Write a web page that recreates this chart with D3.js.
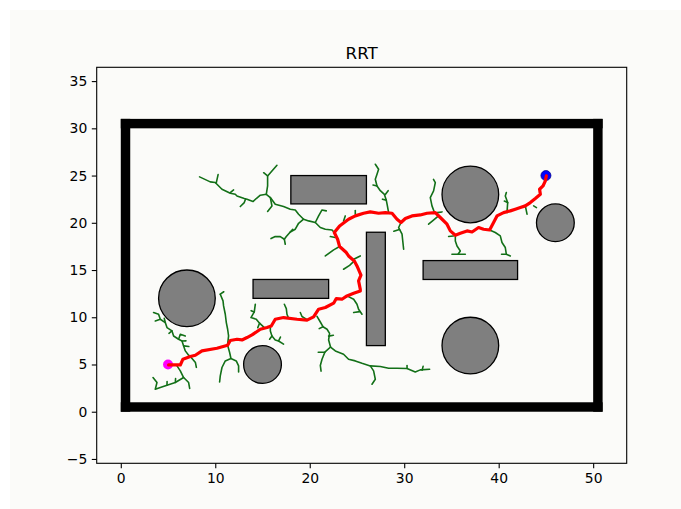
<!DOCTYPE html>
<html>
<head>
<meta charset="utf-8">
<script src="https://cdn.jsdelivr.net/npm/d3@7"></script>
<style>
  body { margin: 0; background: #ffffff; }
  text { font-family: "DejaVu Sans", sans-serif; }
</style>
</head>
<body>
<div id="graph"></div>
<script>
/// Data

var xTicks = [0, 10, 20, 30, 40, 50];
var yTicks = [-5, 0, 5, 10, 15, 20, 25, 30, 35];

// boundary walls [x, y, w, h]
var walls = [[0, 0, 51, 1], [0, 0, 1, 31], [0, 30, 51, 1], [50, 0, 1, 31]];
// rectangular obstacles [x, y, w, h]
var rectObstacles = [[18, 22, 8, 3], [26, 7, 2, 12], [14, 12, 8, 2], [32, 14, 10, 2]];
// circular obstacles [cx, cy, r]
var circleObstacles = [[7, 12, 3], [15, 5, 2], [37, 23, 3], [37, 7, 3], [46, 20, 2]];

var start = [5, 5];
var goal = [45, 25];

// final path found by RRT
var pathPts = [
  [5.06, 4.95], [6.3, 4.95], [6.58, 5.56], [7.36, 5.84], [7.89, 5.98], [8.59, 6.44], [10.18, 6.72],
  [11.31, 7.04], [11.59, 7.54], [12.3, 7.67], [12.83, 7.6], [13.36, 7.85], [13.89, 8.13], [14.77, 8.73],
  [15.48, 8.91], [15.93, 9.08], [16.35, 9.79], [17.23, 9.97], [18.65, 9.79], [19.71, 9.69], [20.41, 10.04],
  [20.94, 10.85], [21.65, 11.03], [22.53, 11.49], [22.81, 11.98], [23.41, 11.91], [23.94, 12.26],
  [24.65, 12.54], [25.35, 12.79], [25.35, 12.97], [25.17, 13.85], [25.42, 14.45], [25.0, 15.43],
  [24.72, 15.96], [24.11, 16.49], [23.87, 16.85], [23.16, 17.49], [22.95, 18.26], [22.6, 18.97],
  [23.16, 19.67], [24.11, 20.38], [24.82, 20.73], [25.7, 21.01], [26.41, 21.15], [27.29, 21.01],
  [28.0, 21.08], [28.71, 21.01], [29.24, 20.38], [29.66, 20.03], [30.12, 20.45], [30.82, 20.73],
  [31.7, 20.83], [32.41, 21.01], [33.29, 21.08], [33.82, 20.56], [34.53, 19.85], [34.88, 19.14],
  [35.41, 18.68], [35.94, 18.89], [36.65, 19.14], [37.18, 19.03], [37.87, 19.5], [38.4, 19.32],
  [39.04, 19.24], [39.46, 20.03], [39.82, 20.73], [40.52, 21.08], [41.23, 21.26], [41.76, 21.44],
  [42.29, 21.61], [42.82, 21.79], [43.35, 22.14], [43.88, 22.57], [44.41, 23.02], [44.33, 23.55],
  [44.69, 23.9], [44.94, 24.43], [45.04, 24.96]
];

// explored tree branches (polylines)
var treeBranches = [
  // upper left
  [[8.34, 24.86], [9.47, 24.33], [10.0, 24.26], [10.18, 24.08], [10.71, 23.55], [11.59, 23.13], [12.12, 23.02],
   [12.3, 22.84], [13.07, 22.57], [13.36, 22.49], [13.99, 22.25], [14.34, 22.57], [14.77, 22.92], [15.4, 23.02],
   [15.83, 22.67], [16.35, 21.96], [17.23, 21.72], [17.94, 21.44], [18.47, 21.36], [18.82, 20.91], [19.35, 20.38],
   [19.88, 20.2], [20.59, 20.03], [21.12, 19.5], [21.65, 19.32], [22.36, 19.24], [22.6, 18.97]],
  [[10.1, 24.2], [10.3, 25.1]],
  [[11.59, 23.2], [11.94, 23.48]],
  [[13.2, 22.5], [13.07, 22.14], [12.65, 21.72]],
  [[15.4, 23.02], [15.54, 23.9], [15.54, 24.96], [16.53, 26.09]],
  [[15.54, 24.96], [15.12, 25.3]],
  [[15.83, 22.67], [16.0, 21.78], [15.54, 21.2]],
  [[20.59, 20.03], [20.94, 20.73], [21.3, 21.36], [21.75, 21.26]],
  [[19.35, 20.38], [18.82, 19.95], [18.47, 19.32], [17.94, 19.03], [17.52, 18.54], [17.31, 18.26], [16.88, 18.54],
   [16.35, 18.54], [15.9, 18.33]],
  [[17.31, 18.26], [17.41, 17.73]],
  [[17.94, 19.03], [18.2, 19.3]],
  // around the middle of the path
  [[23.16, 17.49], [22.53, 17.13], [21.65, 16.49]],
  [[24.72, 15.96], [24.22, 15.5], [23.58, 15.08]],
  [[24.65, 16.14], [25.35, 16.49]],
  [[22.7, 18.44], [22.18, 18.54]],
  [[23.58, 20.2], [23.76, 20.73]],
  [[24.82, 20.91], [24.82, 21.3]],
  [[28.35, 21.08], [28.2, 21.9], [28.1, 22.4], [27.9, 23.0], [27.47, 23.4], [27.12, 23.9], [26.94, 24.61],
   [27.12, 25.14], [27.29, 25.67], [26.94, 26.2]],
  [[27.12, 23.9], [26.7, 24.0]],
  [[28.0, 23.0], [28.3, 23.4]],
  [[28.1, 22.4], [27.7, 22.5]],
  [[29.66, 20.03], [29.41, 19.5], [29.77, 18.79], [29.94, 17.2]],
  [[29.5, 19.3], [28.9, 19.1]],
  // near the big circle
  [[33.2, 21.08], [32.94, 21.79], [32.76, 22.67], [33.11, 23.37], [33.29, 24.26], [33.1, 24.6]],
  [[33.6, 20.7], [33.0, 20.2], [32.58, 19.85]],
  [[33.47, 21.08], [34.0, 21.15]],
  [[35.41, 18.68], [35.41, 18.08], [35.59, 17.55], [35.94, 17.02], [35.7, 16.67]],
  [[35.05, 16.67], [36.47, 16.67]],
  [[35.2, 18.6], [34.7, 18.55]],
  [[39.04, 19.24], [39.64, 18.97], [40.17, 18.61], [40.35, 17.91], [40.7, 17.38], [40.81, 16.67], [41.23, 16.49]],
  [[40.81, 16.67], [40.3, 16.67]],
  [[40.88, 21.08], [40.95, 22.14], [40.7, 22.84], [40.81, 23.2]],
  [[40.95, 22.14], [40.6, 22.3]],
  [[42.82, 21.79], [43.0, 20.91]],
  [[43.7, 21.79], [44.0, 21.61]],
  // near the start
  [[3.47, 10.5], [4.0, 10.32], [4.18, 9.79], [4.71, 9.44], [4.89, 8.91], [5.42, 8.55], [5.59, 8.02], [6.12, 7.67],
   [6.48, 7.49], [6.65, 6.97], [6.83, 6.44], [7.18, 5.98], [7.36, 5.84]],
  [[4.18, 9.79], [3.65, 9.61]],
  [[4.71, 9.44], [4.6, 9.9]],
  [[5.42, 8.55], [5.1, 8.3]],
  [[6.12, 7.67], [6.3, 8.2], [6.83, 8.02]],
  [[6.65, 6.97], [7.2, 6.9]],
  [[6.48, 7.49], [6.9, 7.5]],
  [[7.36, 5.84], [7.9, 5.2], [8.0, 4.7]],
  [[5.95, 4.85], [6.3, 4.32], [6.65, 3.62], [7.18, 3.09], [7.29, 2.46]],
  [[6.65, 3.62], [5.77, 3.09], [4.89, 2.81], [4.18, 2.56], [3.65, 2.38], [3.83, 3.09], [3.41, 3.62]],
  [[5.77, 3.09], [5.8, 3.5]],
  [[4.89, 2.81], [4.9, 3.2]],
  // lower middle
  [[11.31, 7.04], [11.52, 6.27], [11.66, 5.63], [12.22, 5.38], [12.47, 4.85], [12.47, 4.21]],
  [[11.66, 5.63], [11.06, 5.38], [10.71, 4.68], [10.53, 3.79], [10.46, 3.15]],
  [[11.31, 7.15], [11.41, 8.02], [11.31, 8.73], [11.17, 9.44], [11.06, 10.32], [10.88, 11.2], [10.82, 11.73],
   [10.53, 12.44]],
  [[10.53, 12.44], [10.9, 12.7]],
  [[15.19, 8.91], [14.69, 9.37], [14.34, 9.79], [13.78, 9.97], [14.13, 10.56], [14.24, 11.38]],
  [[14.69, 9.37], [14.5, 8.9]],
  [[14.13, 10.56], [13.8, 10.7]],
  [[15.83, 8.9], [15.83, 8.55], [16.0, 8.02], [16.35, 7.6], [16.7, 7.49], [17.23, 7.15]],
  [[16.0, 8.02], [15.75, 7.67]],
  [[16.7, 7.49], [16.9, 7.9]],
  [[17.73, 9.97], [17.59, 10.32], [17.52, 10.92], [17.31, 11.38]],
  [[19.71, 9.75], [19.18, 10.08], [19.0, 10.5]],
  [[20.77, 10.1], [21.12, 9.5], [21.4, 9.0], [21.83, 8.73], [22.1, 8.3], [22.0, 7.6], [22.2, 6.85], [22.71, 6.44],
   [23.58, 6.09], [24.11, 5.56], [24.82, 5.38], [25.53, 5.13], [26.41, 4.85], [27.47, 4.78], [28.35, 4.6],
   [29.24, 4.6], [30.3, 4.57], [31.17, 4.21], [31.7, 4.43], [32.69, 4.5]],
  [[22.2, 6.85], [21.6, 6.3], [21.3, 5.56], [21.12, 4.9], [21.2, 4.3]],
  [[21.6, 6.3], [20.9, 6.3]],
  [[26.41, 4.85], [26.76, 4.32], [26.94, 3.44], [26.59, 2.91]],
  [[30.3, 4.57], [30.3, 4.9]],
  [[31.9, 4.4], [32.0, 4.8]],
  [[21.4, 9.0], [21.0, 8.8]],
  [[22.0, 8.0], [22.5, 8.1]],
  [[23.94, 12.26], [24.65, 11.91], [25.0, 11.38], [25.17, 10.85], [25.53, 10.32]],
  [[25.3, 10.6], [24.65, 10.5]]
];

/// Geometry
var W = 681, H = 509;
var plot = { left: 96.7, right: 626.7, top: 67.3, bottom: 463.3 };

var xScale = d3.scaleLinear().domain([-2.55, 53.55]).range([plot.left, plot.right]);
var yScale = d3.scaleLinear().domain([-5.46, 36.46]).range([plot.bottom, plot.top]);
var unit = xScale(1) - xScale(0);

var svg = d3.select("#graph").append("svg")
  .attr("width", W)
  .attr("height", H);

// figure background
svg.append("rect")
  .attr("x", 10).attr("y", 10)
  .attr("width", W - 10).attr("height", H - 10)
  .attr("fill", "#fbfbf9");

svg.append("defs").append("clipPath")
  .attr("id", "clip")
  .append("rect")
  .attr("x", plot.left).attr("y", plot.top)
  .attr("width", plot.right - plot.left)
  .attr("height", plot.bottom - plot.top);

var g = svg.append("g").attr("clip-path", "url(#clip)");

// walls
g.selectAll(".wall").data(walls).join("rect")
  .attr("class", "wall")
  .attr("x", function (d) { return xScale(d[0]); })
  .attr("y", function (d) { return yScale(d[1] + d[3]); })
  .attr("width", function (d) { return xScale(d[0] + d[2]) - xScale(d[0]); })
  .attr("height", function (d) { return yScale(d[1]) - yScale(d[1] + d[3]); })
  .attr("fill", "#000");

// obstacles
g.selectAll(".robs").data(rectObstacles).join("rect")
  .attr("class", "robs")
  .attr("x", function (d) { return xScale(d[0]); })
  .attr("y", function (d) { return yScale(d[1] + d[3]); })
  .attr("width", function (d) { return xScale(d[0] + d[2]) - xScale(d[0]); })
  .attr("height", function (d) { return yScale(d[1]) - yScale(d[1] + d[3]); })
  .attr("fill", "#7f7f7f")
  .attr("stroke", "#000")
  .attr("stroke-width", 1.3);

g.selectAll(".cobs").data(circleObstacles).join("circle")
  .attr("class", "cobs")
  .attr("cx", function (d) { return xScale(d[0]); })
  .attr("cy", function (d) { return yScale(d[1]); })
  .attr("r", function (d) { return d[2] * unit; })
  .attr("fill", "#7f7f7f")
  .attr("stroke", "#000")
  .attr("stroke-width", 1.3);

var line = d3.line()
  .x(function (d) { return xScale(d[0]); })
  .y(function (d) { return yScale(d[1]); });

// tree
g.selectAll(".branch").data(treeBranches).join("path")
  .attr("class", "branch")
  .attr("d", line)
  .attr("fill", "none")
  .attr("stroke", "#137018")
  .attr("stroke-width", 1.6)
  .attr("stroke-linejoin", "round")
  .attr("stroke-linecap", "round");

// start & goal
g.append("circle")
  .attr("cx", xScale(start[0])).attr("cy", yScale(start[1]))
  .attr("r", 5).attr("fill", "#ff00ff");
g.append("circle")
  .attr("cx", xScale(goal[0])).attr("cy", yScale(goal[1]))
  .attr("r", 5).attr("fill", "#0000ff").attr("stroke", "#00008b").attr("stroke-width", 0.8);

// path
g.append("path")
  .datum(pathPts)
  .attr("d", line)
  .attr("fill", "none")
  .attr("stroke", "#ff0000")
  .attr("stroke-width", 3.2)
  .attr("stroke-linejoin", "round")
  .attr("stroke-linecap", "round");

// axes
var xAxis = svg.append("g")
  .attr("transform", "translate(0," + plot.bottom + ")")
  .call(d3.axisBottom(xScale).tickValues(xTicks).tickSize(4.9).tickPadding(4.5));
var yAxis = svg.append("g")
  .attr("transform", "translate(" + plot.left + ",0)")
  .call(d3.axisLeft(yScale).tickValues(yTicks).tickSize(4.9).tickPadding(4.5));

[xAxis, yAxis].forEach(function (a) {
  a.select(".domain").remove();
  a.selectAll("line").attr("stroke", "#000").attr("stroke-width", 1.1);
  a.selectAll("text")
    .attr("fill", "#000")
    .style("font-size", "13.9px")
    .style("font-family", "DejaVu Sans");
});

// spines
svg.append("rect")
  .attr("x", plot.left).attr("y", plot.top)
  .attr("width", plot.right - plot.left)
  .attr("height", plot.bottom - plot.top)
  .attr("fill", "none")
  .attr("stroke", "#000")
  .attr("stroke-width", 1.1);

// title
svg.append("text")
  .attr("x", (plot.left + plot.right) / 2)
  .attr("y", 59)
  .attr("text-anchor", "middle")
  .style("font-size", "16.7px")
  .text("RRT");
</script>
</body>
</html>
